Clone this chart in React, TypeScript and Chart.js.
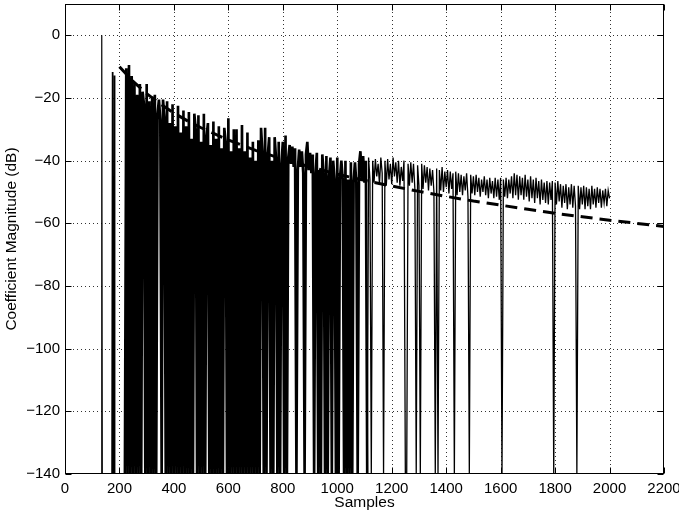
import React, { useEffect, useRef } from "react";
import { Chart, registerables } from "chart.js";

Chart.register(...registerables);

// ---- axis ticks ----
const xTickValues = [0, 200, 400, 600, 800, 1000, 1200, 1400, 1600, 1800, 2000, 2200];
const yTickValues = [-140, -120, -100, -80, -60, -40, -20, 0];
const xMin = 0;
const xMax = 2200;
const yMin = -140;
const yMax = 10;

// ---- coefficient magnitude (dB), leading isolated samples ----
const earlySamples = [133, 135, 137, 172, 174, 176, 179, 181, 183, 220];
const earlyDb = [-140, 0, -140, -140, -11.7, -140, -140, -12.8, -140, -140];

// ---- coefficient magnitude (dB), samples 225..2000 every 5 samples (-140 = zero coefficient) ----
const noiseFirstSample = 225;
const noiseStep = 5;
const denseEndSample = 1110; // end of the region crowded with zero coefficients
const noiseDb = [
  // 225-320
  -10.5, -140, -9.5, -140, -13, -140, -15, -140, -19, -140, -15.5, -140, -18, -22, -140, -15.5, -140, -21, -140, -19.5,
  // 325-420
  -140, -19, -140, -25, -20.5, -27, -140, -20.5, -26, -140, -21, -140, -28, -140, -22, -140, -29, -140, -22.5, -140,
  // 425-520
  -31, -140, -24, -140, -29, -140, -24.5, -140, -33, -140, -25, -30, -140, -25.5, -140, -34, -140, -25, -140, -32,
  // 525-620
  -28, -140, -35, -140, -27.5, -140, -33, -140, -29, -140, -36, -140, -29.5, -34, -140, -26.5, -140, -37, -140, -30,
  // 625-720
  -140, -30, -140, -36, -140, -28.6, -140, -37, -140, -31, -140, -39, -140, -34, -140, -40, -140, -33.5, -140, -29.5,
  // 725-820
  -37, -140, -29.5, -140, -38, -32.5, -140, -40, -140, -32.5, -39, -140, -34, -140, -41, -34, -140, -32, -140, -39,
  // 825-920
  -35, -41, -35.5, -42, -36, -140, -43, -36.5, -42, -37, -44, -140, -38, -34, -43, -37.5, -44, -38, -140, -44,
  // 925-1020
  -37.5, -140, -43, -140, -38, -44, -140, -38.5, -140, -45, -39, -140, -40, -46, -140, -39, -140, -45.5, -40, -46,
  // 1025-1110
  -140, -40, -140, -46, -140, -40.5, -140, -46.5, -40.5, -47, -140, -41, -37, -46, -38.5, -47, -40, -140,
  // 1115-1210
  -39, -46, -140, -40, -47, -39.5, -45, -41, -47.5, -39, -44, -140, -40, -48, -39.5, -46, -41, -47.5, -39, -45,
  // 1215-1310
  -40.5, -47, -40, -48, -42, -46.5, -40, -140, -140, -41, -48, -40.5, -47, -41, -49, -140, -41.5, -48, -140, -41,
  // 1315-1410
  -49, -41.5, -47, -42, -49.5, -42.5, -48, -43, -50, -140, -42.5, -140, -43, -49.5, -42, -50, -43.5, -48.5, -43, -50.5,
  // 1415-1510
  -43.5, -49, -44, -140, -43.5, -51, -44, -50, -44.5, -51, -45, -49.5, -44, -51.5, -140, -44.5, -50.5, -45, -51, -44.5,
  // 1515-1610
  -50, -45.5, -51.5, -46, -50, -45, -51, -46, -52, -45.5, -50.5, -46.5, -52, -45.5, -51.5, -46, -52.5, -45.5, -140, -46,
  // 1615-1710
  -51.5, -45.5, -52, -46, -50.5, -45, -52, -44, -51, -44.5, -52.5, -45, -51, -45.5, -52.5, -44.5, -51.5, -46, -53, -45,
  // 1715-1810
  -52, -46, -53.5, -45.5, -52, -46.5, -54, -46, -52.5, -47, -53.5, -46.5, -54, -47, -52.5, -46.5, -140, -47, -54, -46.5,
  // 1815-1910
  -53, -47.5, -55, -48, -53.5, -47.5, -55.5, -48.5, -54, -47.5, -55, -48, -54.5, -140, -48, -55.5, -48.5, -54, -48, -55.5,
  // 1915-2000
  -48.5, -54.5, -49, -55.5, -48, -54, -49, -55, -48.5, -53.5, -49, -55, -49.5, -53.5, -49, -54.5, -49.5, -52,
];

// ---- decay trend (dashed) ----
const trendSamples = [200, 250, 300, 350, 400, 450, 500, 600, 700, 800, 900, 1000, 1100, 1200, 1300, 1400, 1500, 1600, 1700, 1800, 1900, 2000, 2100, 2200];
const trendDb = [-10, -14.7, -18.6, -21.9, -24.8, -27.3, -29.5, -33.4, -36.7, -39.5, -42.0, -44.3, -46.3, -48.1, -49.8, -51.4, -52.9, -54.2, -55.5, -56.8, -57.9, -59.0, -60.0, -61.0];

const xTitle = "Samples";
const yTitle = "Coefficient Magnitude (dB)";

const FONT = "'Liberation Sans', Arial, Helvetica, sans-serif";

const fmtTick = (v: number) => (v < 0 ? "\u2212" + Math.abs(v) : String(v));

const matlabFrame = {
  id: "matlabFrame",
  beforeDatasetsDraw(chart: any) {
    const { ctx, chartArea: a, scales } = chart;
    const x = scales.x;
    const y = scales.y;
    ctx.save();
    ctx.strokeStyle = "rgba(0,0,0,0.8)";
    ctx.lineWidth = 1;
    ctx.setLineDash([1, 3]);
    for (const v of xTickValues) {
      if (v <= xMin || v >= xMax) continue;
      const px = Math.round(x.getPixelForValue(v)) + 0.5;
      ctx.beginPath();
      ctx.moveTo(px, a.top);
      ctx.lineTo(px, a.bottom);
      ctx.stroke();
    }
    for (const v of yTickValues) {
      if (v <= yMin || v >= yMax) continue;
      const py = Math.round(y.getPixelForValue(v)) + 0.5;
      ctx.beginPath();
      ctx.moveTo(a.left, py);
      ctx.lineTo(a.right, py);
      ctx.stroke();
    }
    ctx.restore();
  },
  afterDatasetsDraw(chart: any) {
    const { ctx, chartArea: a, scales } = chart;
    const x = scales.x;
    const y = scales.y;
    const L = Math.round(a.left) + 0.5;
    const R = Math.round(a.right) - 0.5;
    const T = Math.round(a.top) + 0.5;
    const B = Math.round(a.bottom) - 0.5;
    const tl = 6;
    ctx.save();
    ctx.strokeStyle = "#000";
    ctx.lineWidth = 1;
    ctx.setLineDash([]);
    ctx.strokeRect(L, T, R - L, B - T);
    ctx.beginPath();
    for (const v of xTickValues) {
      const px = Math.round(x.getPixelForValue(v)) + 0.5;
      ctx.moveTo(px, B);
      ctx.lineTo(px, B - tl);
      ctx.moveTo(px, T);
      ctx.lineTo(px, T + tl);
    }
    for (const v of yTickValues) {
      const py = Math.round(y.getPixelForValue(v)) + 0.5;
      ctx.moveTo(L, py);
      ctx.lineTo(L + tl, py);
      ctx.moveTo(R, py);
      ctx.lineTo(R - tl, py);
    }
    ctx.stroke();
    ctx.restore();
  },
};

export default function App() {
  const canvasRef = useRef<HTMLCanvasElement | null>(null);

  useEffect(() => {
    const canvas = canvasRef.current;
    if (!canvas) return;

    const earlyPoints = earlySamples.map((s, i) => ({ x: s, y: earlyDb[i] }));
    const densePoints: { x: number; y: number }[] = [earlyPoints[earlyPoints.length - 1]];
    const tailPoints: { x: number; y: number }[] = [];
    noiseDb.forEach((v, i) => {
      const s = noiseFirstSample + i * noiseStep;
      if (s <= denseEndSample) densePoints.push({ x: s, y: v });
      if (s >= denseEndSample) tailPoints.push({ x: s, y: v });
    });
    const trendPoints = trendSamples.map((s, i) => ({ x: s, y: trendDb[i] }));

    const chart = new Chart(canvas, {
      type: "line",
      data: {
        datasets: [
          {
            label: "trend",
            data: trendPoints,
            borderColor: "#000",
            borderWidth: 3,
            borderDash: [12, 7],
            pointRadius: 0,
            tension: 0,
            fill: false,
          },
          {
            label: "coefficients (early)",
            data: earlyPoints,
            borderColor: "#000",
            borderWidth: 1.2,
            pointRadius: 0,
            tension: 0,
            fill: false,
          },
          {
            label: "coefficients (dense)",
            data: densePoints,
            borderColor: "#000",
            borderWidth: 2.65,
            borderJoinStyle: "bevel",
            pointRadius: 0,
            tension: 0,
            fill: false,
          },
          {
            label: "coefficients (tail)",
            data: tailPoints,
            borderColor: "#000",
            borderWidth: 1.3,
            pointRadius: 0,
            tension: 0,
            fill: false,
          },
        ],
      },
      options: {
        animation: false,
        responsive: false,
        maintainAspectRatio: false,
        devicePixelRatio: 1,
        layout: { padding: { top: 4, right: 15, left: 0, bottom: 0 } },
        plugins: {
          legend: { display: false },
          tooltip: { enabled: false },
        },
        scales: {
          x: {
            type: "linear",
            min: xMin,
            max: xMax,
            grid: { display: false, drawTicks: false },
            border: { display: false },
            afterBuildTicks: (s: any) => {
              s.ticks = xTickValues.map((v) => ({ value: v }));
            },
            afterFit: (s: any) => {
              s.height = 38;
              s.paddingLeft = 0;
              s.paddingRight = 0;
            },
            ticks: {
              autoSkip: false,
              maxRotation: 0,
              padding: 6,
              color: "#000",
              font: { family: FONT, size: 15 },
              callback: (v: any) => fmtTick(Number(v)),
            },
            title: {
              display: true,
              text: xTitle,
              color: "#000",
              font: { family: FONT, size: 15.5 },
              padding: { top: 0, bottom: 0 },
            },
          },
          y: {
            type: "linear",
            min: yMin,
            max: yMax,
            grid: { display: false, drawTicks: false },
            border: { display: false },
            afterBuildTicks: (s: any) => {
              s.ticks = yTickValues.map((v) => ({ value: v }));
            },
            afterFit: (s: any) => {
              s.width = 65;
              s.paddingTop = 0;
              s.paddingBottom = 0;
            },
            ticks: {
              autoSkip: false,
              padding: 5,
              color: "#000",
              font: { family: FONT, size: 15 },
              callback: (v: any) => fmtTick(Number(v)),
            },
            title: {
              display: true,
              text: yTitle,
              color: "#000",
              font: { family: FONT, size: 15.5 },
              padding: { top: 2, bottom: 0 },
            },
          },
        },
      },
      plugins: [matlabFrame],
    } as any);

    return () => chart.destroy();
  }, []);

  return (
    <div style={{ position: "absolute", left: 0, top: 0, width: 679, height: 512, background: "#fff" }}>
      <canvas ref={canvasRef} width={679} height={512} style={{ width: 679, height: 512, display: "block" }} />
    </div>
  );
}
